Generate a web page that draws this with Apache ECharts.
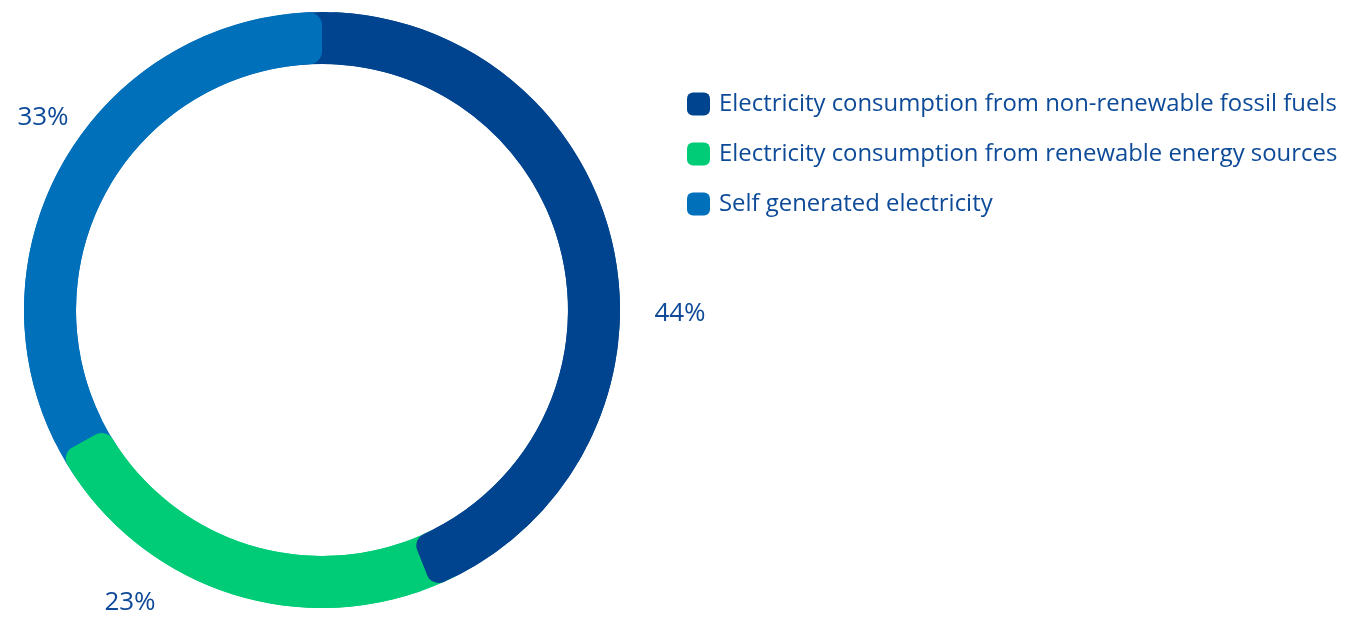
<!DOCTYPE html>
<html>
<head>
<meta charset="utf-8">
<script src="https://cdn.jsdelivr.net/npm/echarts@6/dist/echarts.min.js"></script>
<style>
html,body{margin:0;padding:0;background:#fff;}
#main{width:1368px;height:619px;}
</style>
</head>
<body>
<div id="main"></div>
<script>
const categories = [
  'Electricity consumption from non-renewable fossil fuels',
  'Electricity consumption from renewable energy sources',
  'Self generated electricity'
];
const values = [44, 23, 33];
const colors = ['#00448F', '#00CC77', '#0070BA'];
const labelPos = [[680, 314], [130, 603], [43, 118]];

const textColor = '#0D4A98';
const fontFamily = '"Open Sans", Lato, sans-serif';
const data = categories.map((c, i) => ({ name: c, value: values[i], itemStyle: { color: colors[i] } }));
const overlapDeg = 5;

const chart = echarts.init(document.getElementById('main'));
chart.setOption({
  animation: false,
  legend: {
    orient: 'vertical',
    left: 682,
    top: 87,
    itemWidth: 23,
    itemHeight: 23,
    itemGap: 26,
    icon: 'path://M6,0 H17 A6,6 0 0 1 23,6 V17 A6,6 0 0 1 17,23 H6 A6,6 0 0 1 0,17 V6 A6,6 0 0 1 6,0 Z',
    textStyle: { fontSize: 23.9, color: textColor, fontFamily: fontFamily, padding: [0, 0, 0, 4] },
    data: categories
  },
  graphic: values.map((v, i) => ({
    type: 'text',
    x: labelPos[i][0],
    y: labelPos[i][1],
    style: {
      text: v + '%',
      fontSize: 26,
      fill: textColor,
      fontFamily: fontFamily,
      align: 'center',
      verticalAlign: 'middle'
    }
  })),
  series: [
    {
      type: 'pie',
      silent: true,
      center: [322, 310],
      radius: [246, 298],
      startAngle: 90 + overlapDeg,
      clockwise: true,
      label: { show: false },
      labelLine: { show: false },
      data: data.map(d => Object.assign({}, d)),
      z: 1
    },
    {
      type: 'pie',
      center: [322, 310],
      radius: [246, 298],
      startAngle: 90,
      clockwise: true,
      itemStyle: { borderRadius: 13 },
      label: { show: false },
      labelLine: { show: false },
      data: data,
      z: 2
    }
  ]
});
</script>
</body>
</html>
